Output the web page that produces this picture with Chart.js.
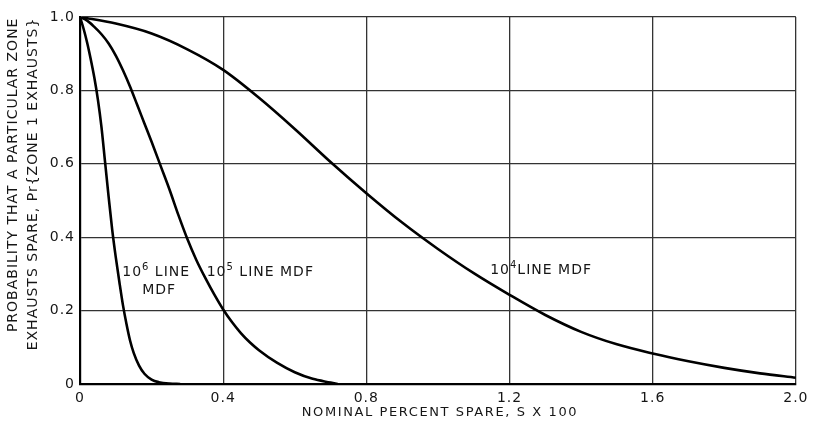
<!DOCTYPE html>
<html>
<head>
<meta charset="utf-8">
<script src="https://cdn.jsdelivr.net/npm/chart.js@4.4.1/dist/chart.umd.min.js"></script>
<style>
  html, body { margin: 0; padding: 0; background: #fff; }
  #wrap { width: 813px; height: 424px; }
</style>
</head>
<body>
<div id="wrap"><canvas id="chart"></canvas></div>
<script>
// probability that zone 1 exhausts spare vs nominal percent spare (S x 100)
const spare1e6 = [0, 0.01, 0.02, 0.03, 0.04, 0.05, 0.06, 0.07, 0.08, 0.09, 0.10, 0.11, 0.12, 0.13, 0.14, 0.15, 0.165, 0.18, 0.20, 0.22, 0.25, 0.28];
const prob1e6  = [1.0, 0.968, 0.93, 0.885, 0.835, 0.775, 0.70, 0.605, 0.51, 0.42, 0.345, 0.278, 0.215, 0.163, 0.118, 0.085, 0.05, 0.028, 0.012, 0.005, 0.001, 0];

const spare1e5 = [0, 0.02, 0.04, 0.06, 0.08, 0.10, 0.12, 0.14, 0.16, 0.18, 0.20, 0.225, 0.25, 0.275, 0.30, 0.325, 0.35, 0.375, 0.40, 0.425, 0.45, 0.475, 0.50, 0.55, 0.60, 0.65, 0.70, 0.72];
const prob1e5  = [1.0, 0.99, 0.973, 0.953, 0.928, 0.895, 0.855, 0.81, 0.76, 0.71, 0.66, 0.595, 0.53, 0.46, 0.395, 0.338, 0.289, 0.244, 0.203, 0.168, 0.138, 0.113, 0.092, 0.058, 0.032, 0.014, 0.004, 0];

const spare1e4 = [0, 0.1, 0.2, 0.3, 0.4, 0.5, 0.6, 0.7, 0.8, 0.9, 1.0, 1.1, 1.2, 1.3, 1.4, 1.5, 1.6, 1.7, 1.8, 1.9, 2.0];
const prob1e4  = [1.0, 0.982, 0.955, 0.912, 0.856, 0.78, 0.695, 0.605, 0.52, 0.44, 0.368, 0.302, 0.243, 0.188, 0.142, 0.108, 0.083, 0.062, 0.044, 0.029, 0.017];

const xTicks = [0, 0.4, 0.8, 1.2, 1.6, 2.0];
const yTicks = [0, 0.2, 0.4, 0.6, 0.8, 1.0];

const seriesNames = ["10^6 LINE MDF", "10^5 LINE MDF", "10^4 LINE MDF"];

// curve labels, anchored in data units
const curveLabels = [
  { sup: "6", text: " LINE", line2: "MDF", x: 0.118, y: 0.305 },
  { sup: "5", text: " LINE MDF", line2: "", x: 0.354, y: 0.305 },
  { sup: "4", text: "LINE MDF", line2: "", x: 1.146, y: 0.31 }
];

const xTitle = "NOMINAL PERCENT SPARE, S X 100";
const yTitle = ["PROBABILITY THAT A PARTICULAR ZONE", "EXHAUSTS SPARE, Pr{ZONE 1 EXHAUSTS}"];

const font = "DejaVu Sans";
const ink = "#161616";

function pts(xs, ys) {
  return xs.map((x, i) => ({ x: x, y: ys[i] }));
}

function tickText(v) {
  return v === 0 ? "0" : v.toFixed(1);
}

const spacingPlugin = {
  id: "spacing",
  beforeDraw(chart) { chart.ctx.letterSpacing = "1px"; }
};

const labelPlugin = {
  id: "curveLabels",
  afterDatasetsDraw(chart) {
    const ctx = chart.ctx;
    const xs = chart.scales.x, ys = chart.scales.y;
    ctx.save();
    ctx.letterSpacing = "1px";
    ctx.fillStyle = ink;
    ctx.textBaseline = "middle";
    curveLabels.forEach(l => {
      const start = xs.getPixelForValue(l.x);
      let px = start;
      const py = ys.getPixelForValue(l.y);
      ctx.font = "14px '" + font + "'";
      ctx.textAlign = "left";
      ctx.fillText("10", px, py);
      px += ctx.measureText("10").width;
      ctx.font = "10px '" + font + "'";
      ctx.fillText(l.sup, px, py - 5);
      px += ctx.measureText(l.sup).width;
      ctx.font = "14px '" + font + "'";
      ctx.fillText(l.text, px, py);
      if (l.line2) {
        const end = px + ctx.measureText(l.text).width;
        ctx.textAlign = "center";
        ctx.fillText(l.line2, (start + end) / 2 + 3, py + 18);
      }
    });
    ctx.restore();
  }
};

const titlePlugin = {
  id: "axisTitles",
  afterDraw(chart) {
    const ctx = chart.ctx;
    const a = chart.chartArea;
    ctx.save();
    ctx.fillStyle = ink;
    ctx.font = "14px '" + font + "'";
    ctx.textAlign = "center";
    ctx.textBaseline = "middle";
    ctx.letterSpacing = "1px";
    const yl = [
      { t: yTitle[0], x: 13, c: 0.43 },
      { t: yTitle[1], x: 33, c: 0.455 }
    ];
    yl.forEach(l => {
      ctx.save();
      ctx.translate(l.x, a.top + (a.bottom - a.top) * l.c);
      ctx.rotate(-Math.PI / 2);
      ctx.fillText(l.t, 0, 0);
      ctx.restore();
    });
    ctx.letterSpacing = "1.6px";
    ctx.font = "13px '" + font + "'";
    ctx.fillText(xTitle, (a.left + a.right) / 2 + 2, 413);
    ctx.restore();
  }
};

const lineStyle = {
  borderColor: "#000",
  borderWidth: 2.6,
  pointRadius: 0,
  fill: false,
  cubicInterpolationMode: "monotone"
};

new Chart(document.getElementById("chart"), {
  type: "line",
  data: {
    datasets: [
      Object.assign({ label: seriesNames[0], data: pts(spare1e6, prob1e6) }, lineStyle),
      Object.assign({ label: seriesNames[1], data: pts(spare1e5, prob1e5) }, lineStyle),
      Object.assign({ label: seriesNames[2], data: pts(spare1e4, prob1e4) }, lineStyle)
    ]
  },
  options: {
    responsive: true,
    maintainAspectRatio: false,
    animation: false,
    layout: { padding: { left: 0, right: 14, top: 17, bottom: 0 } },
    plugins: {
      legend: { display: false },
      tooltip: { enabled: false }
    },
    scales: {
      x: {
        type: "linear",
        min: 0,
        max: 2,
        afterBuildTicks: s => { s.ticks = xTicks.map(v => ({ value: v })); },
        afterFit: s => { s.height = 40; },
        grid: { color: "#333", lineWidth: 1.3, drawTicks: false },
        border: { color: "#000", width: 2.2 },
        ticks: {
          padding: 6,
          color: ink,
          font: { family: font, size: 14 },
          maxRotation: 0,
          callback: tickText
        }
      },
      y: {
        type: "linear",
        min: 0,
        max: 1,
        afterBuildTicks: s => { s.ticks = yTicks.map(v => ({ value: v })); },
        afterFit: s => { s.width = 80; },
        grid: { color: "#333", lineWidth: 1.3, drawTicks: false },
        border: { color: "#000", width: 2.2 },
        ticks: {
          padding: 5,
          color: ink,
          font: { family: font, size: 14 },
          callback: tickText
        }
      }
    }
  },
  plugins: [spacingPlugin, labelPlugin, titlePlugin]
});
</script>
</body>
</html>
